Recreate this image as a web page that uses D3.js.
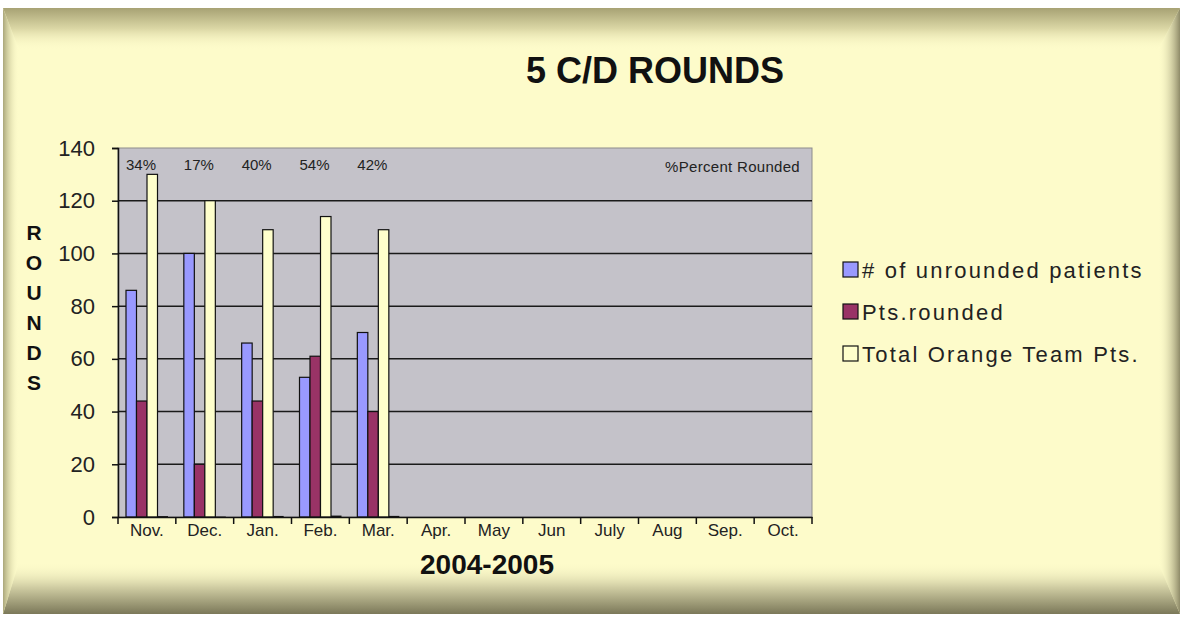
<!DOCTYPE html>
<html>
<head>
<meta charset="utf-8">
<script src="https://cdn.jsdelivr.net/npm/d3@7"></script>
<style>
  body { margin: 0; background: #fff; }
  svg { display: block; font-family: Arial, "Liberation Sans", sans-serif; }
</style>
</head>
<body>
<div id="chart"></div>
<script>
const months = ["Nov.", "Dec.", "Jan.", "Feb.", "Mar.", "Apr.", "May", "Jun", "July", "Aug", "Sep.", "Oct."];
const unrounded = [86, 100, 66, 53, 70];
const rounded = [44, 20, 44, 61, 40];
const totalPts = [130, 120, 109, 114, 109];
const pctRounded = [0.34, 0.17, 0.40, 0.54, 0.42];
const pctLabels = ["34%", "17%", "40%", "54%", "42%"];
const seriesNames = ["# of unrounded patients", "Pts.rounded", "Total Orange Team Pts."];
const seriesColors = ["#9999ff", "#993366", "#ffffcc"];
const yTicks = [0, 20, 40, 60, 80, 100, 120, 140];

const W = 1184, H = 619;
const svg = d3.select("#chart").append("svg").attr("width", W).attr("height", H);
const defs = svg.append("defs");

function grad(id, x1, y1, x2, y2, stops) {
    const g = defs.append("linearGradient").attr("id", id)
        .attr("x1", x1).attr("y1", y1).attr("x2", x2).attr("y2", y2);
    stops.forEach(s => g.append("stop").attr("offset", s[0]).attr("stop-color", s[1]).attr("stop-opacity", s[2] == null ? 1 : s[2]));
}
grad("gTop", 0, 0, 0, 1, [[0, "#a7a274"], [0.5, "#dcd8a6"], [1, "#fdfbca", 0]]);
grad("gBot", 0, 0, 0, 1, [[0, "#fdfbca", 0], [0.45, "#d6d3a8"], [1, "#7b7859"]]);
grad("gLeft", 0, 0, 1, 0, [[0, "#aaa67a"], [1, "#fdfbca", 0]]);
grad("gRight", 0, 0, 1, 0, [[0, "#fdfbca", 0], [1, "#8e8a68"]]);

// bevelled panel
const L = 3, T = 8, R = 1180, B = 614;
svg.append("rect").attr("x", L).attr("y", T).attr("width", R - L).attr("height", B - T).attr("fill", "#fdfbca");
svg.append("polygon").attr("points", `${L},${T} ${R},${T} ${R - 22},${T + 42} ${L + 16},${T + 42}`).attr("fill", "url(#gTop)");
svg.append("polygon").attr("points", `${L},${B} ${R},${B} ${R - 22},${B - 52} ${L + 16},${B - 52}`).attr("fill", "url(#gBot)");
svg.append("polygon").attr("points", `${L},${T} ${L + 16},${T + 42} ${L + 16},${B - 52} ${L},${B}`).attr("fill", "url(#gLeft)");
svg.append("polygon").attr("points", `${R},${T} ${R - 22},${T + 42} ${R - 22},${B - 52} ${R},${B}`).attr("fill", "url(#gRight)");

// plot area
const px0 = 118, px1 = 812, py0 = 148, py1 = 517;
const x = d3.scaleBand().domain(months).range([px0, px1]);
const y = d3.scaleLinear().domain([0, 140]).range([py1, py0]);
const inner = d3.scaleBand().domain(d3.range(4)).range([8, 50]).paddingInner(0);

svg.append("rect").attr("x", px0).attr("y", py0).attr("width", px1 - px0).attr("height", py1 - py0)
    .attr("fill", "#c4c2c9").attr("stroke", "#8d8c8c").attr("stroke-width", 1);

svg.append("g").selectAll("line").data(yTicks.filter(d => d > 0 && d < 140)).join("line")
    .attr("x1", px0).attr("x2", px1).attr("y1", d => y(d)).attr("y2", d => y(d))
    .attr("stroke", "#1a1a1a").attr("stroke-width", 1.5);

// bars
const series = [unrounded, rounded, totalPts];
series.forEach((vals, si) => {
    svg.append("g").selectAll("rect").data(vals).join("rect")
        .attr("x", (d, i) => x(months[i]) + inner(si))
        .attr("y", d => y(d))
        .attr("width", inner.bandwidth())
        .attr("height", d => y(0) - y(d))
        .attr("fill", seriesColors[si])
        .attr("stroke", "#111").attr("stroke-width", 1.2);
});
// percent series drawn as tiny bars
svg.append("g").selectAll("rect").data(pctRounded).join("rect")
    .attr("x", (d, i) => x(months[i]) + inner(3))
    .attr("y", d => y(d))
    .attr("width", inner.bandwidth())
    .attr("height", d => y(0) - y(d))
    .attr("fill", "#111");

// axes
const yAxis = svg.append("g").attr("transform", `translate(${px0},0)`)
    .call(d3.axisLeft(y).tickValues(yTicks).tickSize(6).tickPadding(17));
yAxis.select(".domain").attr("stroke", "#111").attr("stroke-width", 1.5);
yAxis.selectAll(".tick line").attr("stroke", "#111").attr("stroke-width", 1.5);
yAxis.selectAll(".tick text").attr("font-size", 22).attr("fill", "#222").attr("font-family", "Arial, 'Liberation Sans', sans-serif");

const xAxis = svg.append("g").attr("transform", `translate(0,${py1})`)
    .call(d3.axisBottom(x).tickSize(0).tickPadding(7));
xAxis.select(".domain").attr("stroke", "#111").attr("stroke-width", 1.5);
xAxis.selectAll(".tick text").attr("font-size", 17).attr("fill", "#222").attr("font-family", "Arial, 'Liberation Sans', sans-serif");
svg.append("g").selectAll("line").data(months.concat(["end"])).join("line")
    .attr("x1", (d, i) => px0 + i * x.step()).attr("x2", (d, i) => px0 + i * x.step())
    .attr("y1", py1).attr("y2", py1 + 7)
    .attr("stroke", "#111").attr("stroke-width", 1.5);

// percent labels
svg.append("g").selectAll("text").data(pctLabels).join("text")
    .attr("x", (d, i) => x(months[i]) + 23)
    .attr("y", 170)
    .attr("text-anchor", "middle").attr("font-size", 15).attr("fill", "#222")
    .text(d => d);
svg.append("text").attr("x", 800).attr("y", 172).attr("text-anchor", "end")
    .attr("font-size", 15).attr("letter-spacing", 0.3).attr("fill", "#222").text("%Percent Rounded");

// titles
svg.append("text").attr("x", 655).attr("y", 83).attr("text-anchor", "middle")
    .attr("font-size", 36).attr("font-weight", "bold").attr("fill", "#111").text("5 C/D ROUNDS");
svg.append("text").attr("x", 487).attr("y", 574).attr("text-anchor", "middle")
    .attr("font-size", 28).attr("font-weight", "bold").attr("fill", "#111").text("2004-2005");
svg.append("g").selectAll("text").data("ROUNDS".split("")).join("text")
    .attr("x", 34).attr("y", (d, i) => 240 + i * 30)
    .attr("text-anchor", "middle").attr("font-size", 21).attr("font-weight", "bold").attr("fill", "#111")
    .text(d => d);

// legend
const leg = svg.append("g").selectAll("g").data(seriesNames).join("g")
    .attr("transform", (d, i) => `translate(843,${262 + i * 42})`);
leg.append("rect").attr("width", 15).attr("height", 15)
    .attr("fill", (d, i) => seriesColors[i]).attr("stroke", "#111").attr("stroke-width", 1.2);
leg.append("text").attr("x", 19).attr("y", 16).attr("font-size", 22).attr("fill", "#222")
    .attr("letter-spacing", 2.2).text(d => d);
</script>
</body>
</html>
